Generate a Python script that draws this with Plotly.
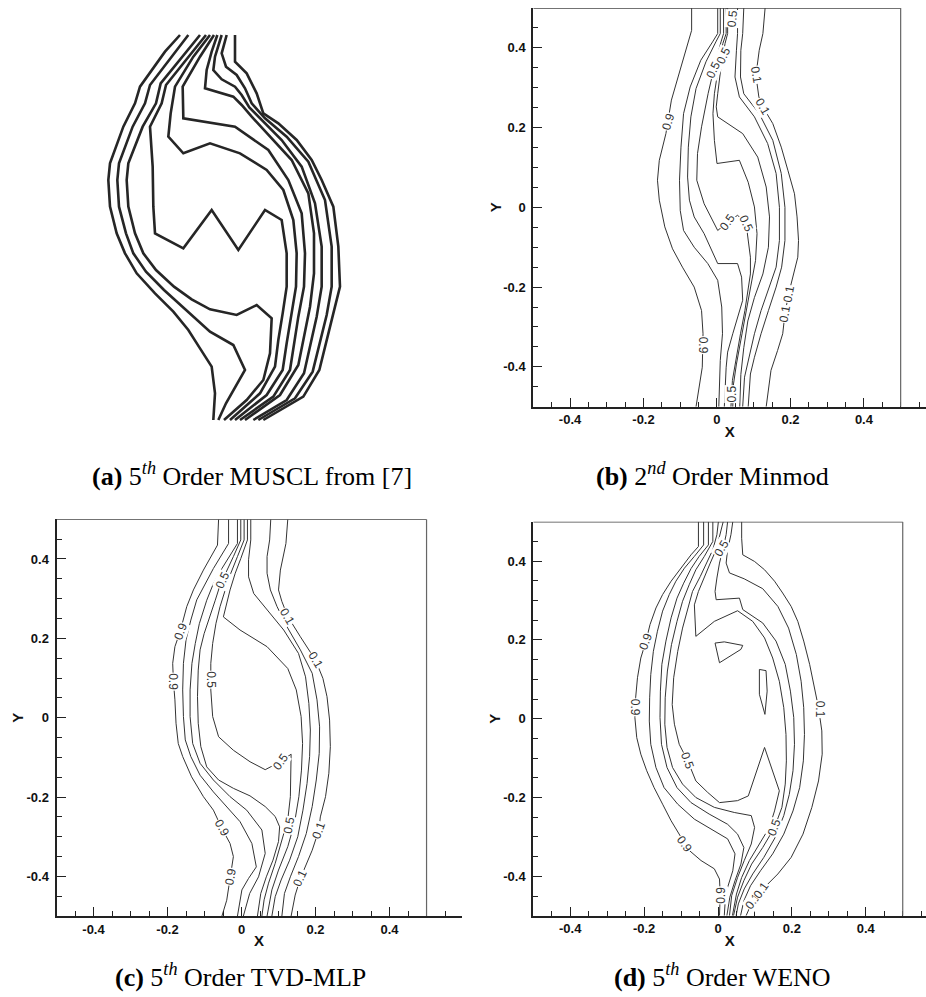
import plotly.graph_objects as go

# ---------------- Panel (a): 5th order MUSCL (digitised contour polylines) ----------------
a1_x = [-0.130,-0.175,-0.250,-0.265,-0.300,-0.340,-0.345,-0.340,-0.320,-0.295,-0.260,-0.205,-0.150,-0.105,-0.070,-0.035,-0.025,-0.030]
a1_y = [0.575,0.525,0.420,0.370,0.300,0.190,0.140,0.060,-0.020,-0.080,-0.140,-0.200,-0.255,-0.310,-0.365,-0.420,-0.500,-0.580]
a2_x = [-0.105,-0.148,-0.220,-0.235,-0.272,-0.313,-0.318,-0.313,-0.292,-0.270,-0.232,-0.178,-0.125,-0.080,-0.040,0.030,0.065,0.008,-0.015]
a2_y = [0.575,0.520,0.425,0.370,0.300,0.190,0.140,0.060,-0.020,-0.080,-0.135,-0.190,-0.238,-0.280,-0.315,-0.355,-0.430,-0.530,-0.580]
a3_x = [-0.070,-0.120,-0.188,-0.202,-0.242,-0.285,-0.290,-0.285,-0.265,-0.240,-0.202,-0.148,-0.095,-0.040,0.040,0.100,0.145,0.140,0.120,0.070,0.002]
a3_y = [0.575,0.515,0.430,0.370,0.300,0.190,0.140,0.060,-0.020,-0.080,-0.130,-0.180,-0.218,-0.248,-0.265,-0.235,-0.275,-0.380,-0.460,-0.520,-0.580]
az_x = [-0.052,-0.108,-0.172,-0.185,-0.220,-0.212,-0.210,-0.205,-0.120,-0.035,0.045,0.125,0.175,0.190,0.190,0.178,0.165,0.155,0.110,0.020]
az_y = [0.575,0.505,0.425,0.370,0.300,0.180,0.060,-0.020,-0.065,0.050,-0.070,0.050,0.020,-0.080,-0.180,-0.260,-0.340,-0.420,-0.500,-0.580]
a4_x = [-0.040,-0.090,-0.145,-0.158,-0.165,-0.120,-0.040,0.050,0.130,0.180,0.210,0.220,0.218,0.202,0.190,0.178,0.130,0.035]
a4_y = [0.575,0.510,0.420,0.340,0.270,0.220,0.250,0.220,0.170,0.110,0.020,-0.080,-0.180,-0.270,-0.350,-0.430,-0.505,-0.580]
ab1_x = [-0.028,-0.070,-0.122,-0.120,0.035,0.135,0.195,0.235,0.245,0.242,0.225,0.212,0.200,0.150,0.050]
ab1_y = [0.575,0.510,0.420,0.325,0.300,0.230,0.140,0.040,-0.080,-0.180,-0.270,-0.350,-0.430,-0.510,-0.580]
ab2_x = [-0.018,-0.035,-0.050,-0.055,0.030,0.055,0.085,0.135,0.205,0.255,0.272,0.272,0.260,0.242,0.225,0.170,0.065]
ab2_y = [0.575,0.525,0.470,0.415,0.390,0.365,0.330,0.275,0.200,0.100,-0.020,-0.140,-0.240,-0.330,-0.415,-0.505,-0.580]
ar3_x = [-0.005,-0.025,-0.030,-0.005,0.035,0.055,0.078,0.120,0.175,0.235,0.275,0.295,0.295,0.280,0.260,0.242,0.190,0.090]
ar3_y = [0.575,0.510,0.470,0.442,0.420,0.395,0.358,0.315,0.260,0.180,0.070,-0.060,-0.180,-0.270,-0.360,-0.440,-0.520,-0.580]
ar2_x = [0.010,-0.005,0.008,0.040,0.065,0.085,0.125,0.190,0.255,0.305,0.325,0.325,0.310,0.288,0.268,0.215,0.105]
ar2_y = [0.575,0.520,0.480,0.455,0.415,0.370,0.325,0.270,0.195,0.080,-0.060,-0.180,-0.265,-0.355,-0.435,-0.515,-0.580]
ar1_x = [0.035,0.035,0.070,0.100,0.120,0.165,0.220,0.265,0.295,0.330,0.345,0.350,0.330,0.308,0.288,0.240,0.120]
ar1_y = [0.575,0.495,0.460,0.400,0.340,0.310,0.260,0.200,0.140,0.060,-0.060,-0.180,-0.260,-0.350,-0.430,-0.510,-0.580]

# ---------------- Panel (b): 2nd order Minmod ----------------
b1_x = [-0.069,-0.069,-0.098,-0.124,-0.139,-0.157,-0.162,-0.157,-0.142,-0.121,-0.094,-0.062,-0.042,-0.038,-0.040,-0.057]
b1_y = [0.5,0.444,0.352,0.269,0.185,0.118,0.068,0.018,-0.049,-0.104,-0.150,-0.200,-0.259,-0.317,-0.401,-0.5]
b2_x = [0.002,0.002,-0.012,-0.044,-0.073,-0.091,-0.098,-0.102,-0.100,-0.091,-0.062,-0.025,0.002,0.013,0.015,0.009,0.005]
b2_y = [0.5,0.436,0.415,0.369,0.302,0.235,0.151,0.068,-0.008,-0.058,-0.100,-0.141,-0.183,-0.250,-0.317,-0.384,-0.5]
b3_x = [0.009,0.009,-0.003,-0.030,-0.057,-0.071,-0.078,-0.080,-0.075,-0.062,-0.035,0.002,0.056,0.067,0.070,0.056,0.043,0.029,0.025,0.020]
b3_y = [0.5,0.436,0.415,0.365,0.298,0.227,0.151,0.076,0.018,-0.024,-0.066,-0.141,-0.141,-0.175,-0.233,-0.275,-0.317,-0.363,-0.401,-0.5]
b4_x = [0.018,0.018,0.011,-0.005,-0.024,-0.042,-0.053,-0.055,-0.035,0.002,0.029,0.056,0.079,0.085,0.091,0.091,0.085,0.076,0.064,0.051,0.042,0.038]
b4_y = [0.5,0.436,0.415,0.361,0.286,0.202,0.135,0.068,0.009,-0.058,-0.037,-0.020,-0.039,-0.083,-0.125,-0.167,-0.209,-0.259,-0.317,-0.384,-0.434,-0.5]
b5_x = [0.025,0.025,0.016,0.004,-0.007,-0.011,-0.007,0.000,0.061,0.085,0.102,0.109,0.105,0.093,0.079,0.065,0.053,0.045,0.043]
b5_y = [0.5,0.436,0.411,0.352,0.285,0.235,0.168,0.110,0.118,0.063,0.001,-0.066,-0.133,-0.192,-0.259,-0.326,-0.393,-0.443,-0.5]
b6_x = [0.029,0.029,0.022,0.011,0.002,-0.002,0.002,0.070,0.111,0.134,0.143,0.140,0.125,0.102,0.084,0.073,0.065,0.062]
b6_y = [0.5,0.436,0.411,0.352,0.285,0.252,0.227,0.185,0.126,0.051,-0.024,-0.100,-0.167,-0.226,-0.285,-0.352,-0.419,-0.5]
b7_x = [0.056,0.056,0.053,0.049,0.061,0.102,0.138,0.161,0.170,0.170,0.161,0.143,0.120,0.102,0.085,0.075,0.070]
b7_y = [0.5,0.436,0.394,0.327,0.277,0.227,0.160,0.085,0.0,-0.083,-0.150,-0.200,-0.259,-0.317,-0.384,-0.426,-0.5]
b8_x = [0.073,0.070,0.065,0.064,0.073,0.115,0.152,0.175,0.185,0.185,0.176,0.161,0.140,0.120,0.102,0.091,0.085]
b8_y = [0.5,0.436,0.394,0.327,0.285,0.235,0.168,0.085,0.0,-0.083,-0.150,-0.200,-0.259,-0.317,-0.376,-0.418,-0.5]
b9_x = [0.131,0.125,0.115,0.106,0.114,0.125,0.152,0.175,0.193,0.211,0.218,0.222,0.220,0.206,0.195,0.185,0.179,0.165,0.147,0.134]
b9_y = [0.5,0.436,0.394,0.331,0.277,0.252,0.210,0.151,0.093,0.034,-0.024,-0.083,-0.125,-0.175,-0.217,-0.267,-0.317,-0.359,-0.409,-0.5]
b_lab_text = ["0.9", "0.9", "0.5", "0.5", "0.5", "0.5", "0.5", "0.5", "0.1", "0.1", "0.1", "0.1"]
b_lab_x = [-0.133, -0.039, 0.043, 0.017, -0.010, 0.029, 0.079, 0.040, 0.106, 0.125, 0.195, 0.184]
b_lab_y = [0.214, -0.346, 0.474, 0.380, 0.344, -0.037, -0.039, -0.468, 0.331, 0.252, -0.217, -0.267]
b_lab_ang = [-72, 90, -85, -65, -65, -55, 65, -90, 80, 60, -80, -80]

# ---------------- Panel (c): 5th order TVD-MLP ----------------
c1_x = [-0.062,-0.065,-0.103,-0.130,-0.148,-0.166,-0.180,-0.186,-0.184,-0.180,-0.177,-0.171,-0.159,-0.135,-0.103,-0.076,-0.053,-0.031,-0.022,-0.031,-0.040,-0.053]
c1_y = [0.5,0.435,0.372,0.322,0.280,0.217,0.179,0.137,0.091,0.045,-0.014,-0.065,-0.098,-0.149,-0.199,-0.233,-0.279,-0.317,-0.350,-0.405,-0.460,-0.5]
c2_x = [-0.035,-0.035,-0.076,-0.101,-0.121,-0.137,-0.150,-0.157,-0.159,-0.157,-0.152,-0.137,-0.112,-0.076,-0.040,-0.004,0.028,0.040,0.019,0.001,-0.011]
c2_y = [0.5,0.439,0.376,0.334,0.297,0.246,0.196,0.137,0.070,0.003,-0.056,-0.098,-0.145,-0.187,-0.224,-0.262,-0.317,-0.376,-0.405,-0.434,-0.5]
c3_x = [-0.011,-0.011,-0.053,-0.076,-0.094,-0.114,-0.125,-0.134,-0.139,-0.139,-0.132,-0.112,-0.076,-0.031,0.014,0.055,0.064,0.046,0.022,0.005]
c3_y = [0.5,0.439,0.376,0.338,0.296,0.237,0.187,0.137,0.070,0.003,-0.065,-0.115,-0.157,-0.199,-0.233,-0.283,-0.342,-0.401,-0.443,-0.5]
c4_x = [-0.002,-0.002,-0.022,-0.042,-0.058,-0.071,-0.087,-0.101,-0.112,-0.117,-0.119,-0.117,-0.110,-0.094,-0.062,-0.022,0.023,0.064,0.091,0.103,0.100,0.085,0.067,0.052,0.043]
c4_y = [0.5,0.448,0.406,0.368,0.334,0.296,0.254,0.212,0.171,0.120,0.053,-0.014,-0.073,-0.124,-0.157,-0.178,-0.197,-0.224,-0.249,-0.275,-0.312,-0.359,-0.401,-0.443,-0.5]
c5_x = [0.007,0.007,-0.011,-0.029,-0.044,-0.058,-0.069,-0.078,-0.083,-0.083,-0.078,-0.062,-0.022,0.023,0.064,0.105,0.134,0.134,0.132,0.125,0.109,0.091,0.073,0.061,0.055]
c5_y = [0.5,0.448,0.406,0.364,0.322,0.280,0.238,0.187,0.137,0.070,0.003,-0.048,-0.082,-0.111,-0.131,-0.111,-0.092,-0.140,-0.199,-0.257,-0.312,-0.367,-0.417,-0.459,-0.5]
c6_x = [0.016,0.016,-0.002,-0.017,-0.031,-0.040,-0.049,-0.004,0.069,0.125,0.148,0.161,0.165,0.162,0.155,0.143,0.125,0.100,0.082,0.069]
c6_y = [0.5,0.448,0.401,0.364,0.322,0.288,0.254,0.221,0.179,0.124,0.070,0.003,-0.065,-0.132,-0.199,-0.266,-0.325,-0.384,-0.434,-0.5]
c7_x = [0.025,0.025,0.019,0.019,0.033,0.069,0.114,0.154,0.173,0.182,0.186,0.184,0.177,0.166,0.152,0.130,0.107,0.091,0.082]
c7_y = [0.5,0.448,0.398,0.355,0.313,0.271,0.221,0.162,0.103,0.036,-0.031,-0.098,-0.166,-0.233,-0.300,-0.359,-0.409,-0.451,-0.5]
c8_x = [0.079,0.076,0.069,0.069,0.078,0.096,0.123,0.159,0.191,0.204,0.211,0.210,0.202,0.191,0.175,0.154,0.132,0.116,0.109]
c8_y = [0.5,0.448,0.406,0.364,0.322,0.280,0.229,0.171,0.112,0.045,-0.023,-0.090,-0.157,-0.224,-0.292,-0.350,-0.401,-0.443,-0.5]
c9_x = [0.125,0.120,0.105,0.100,0.109,0.125,0.159,0.200,0.220,0.231,0.238,0.240,0.236,0.227,0.213,0.209,0.191,0.173,0.159,0.145,0.134]
c9_y = [0.5,0.439,0.372,0.322,0.293,0.255,0.204,0.145,0.099,0.053,-0.006,-0.073,-0.140,-0.199,-0.250,-0.283,-0.334,-0.372,-0.405,-0.447,-0.5]
c_lab_text = ["0.9", "0.9", "0.9", "0.9", "0.5", "0.5", "0.5", "0.5", "0.1", "0.1", "0.1", "0.1"]
c_lab_x = [-0.166, -0.184, -0.053, -0.030, -0.051, -0.083, 0.105, 0.128, 0.125, 0.200, 0.209, 0.159]
c_lab_y = [0.217, 0.091, -0.279, -0.401, 0.347, 0.095, -0.111, -0.270, 0.255, 0.145, -0.283, -0.405]
c_lab_ang = [-70, 90, 60, -80, -65, 90, -55, -80, 60, 60, -70, -65]

# ---------------- Panel (d): 5th order WENO ----------------
d1_x = [-0.053,-0.053,-0.073,-0.100,-0.127,-0.150,-0.168,-0.184,-0.195,-0.209,-0.218,-0.223,-0.225,-0.220,-0.209,-0.193,-0.173,-0.150,-0.127,-0.100,-0.082,-0.046,-0.010,0.004,0.006,0.004]
d1_y = [0.5,0.437,0.416,0.382,0.349,0.315,0.281,0.239,0.197,0.154,0.104,0.053,0.003,-0.048,-0.090,-0.132,-0.175,-0.217,-0.259,-0.301,-0.331,-0.360,-0.381,-0.407,-0.445,-0.5]
d2_x = [-0.039,-0.039,-0.064,-0.091,-0.114,-0.132,-0.150,-0.164,-0.175,-0.182,-0.185,-0.186,-0.182,-0.168,-0.146,-0.109,-0.064,-0.010,0.026,0.046,0.040,0.026,0.019,0.017]
d2_y = [0.5,0.441,0.412,0.382,0.349,0.315,0.273,0.222,0.171,0.112,0.053,-0.006,-0.065,-0.124,-0.175,-0.217,-0.255,-0.284,-0.305,-0.343,-0.386,-0.428,-0.470,-0.5]
d3_x = [-0.026,-0.026,-0.051,-0.073,-0.093,-0.111,-0.127,-0.141,-0.152,-0.156,-0.157,-0.153,-0.138,-0.111,-0.073,-0.024,0.026,0.053,0.070,0.062,0.046,0.032,0.024]
d3_y = [0.5,0.441,0.412,0.381,0.344,0.306,0.256,0.197,0.138,0.070,0.003,-0.065,-0.124,-0.175,-0.213,-0.242,-0.268,-0.293,-0.327,-0.369,-0.411,-0.453,-0.5]
d4_x = [-0.014,-0.014,-0.037,-0.060,-0.078,-0.096,-0.111,-0.126,-0.137,-0.143,-0.144,-0.138,-0.123,-0.096,-0.060,-0.010,0.044,0.090,0.099,0.090,0.071,0.053,0.037,0.031]
d4_y = [0.5,0.450,0.412,0.378,0.340,0.298,0.247,0.188,0.121,0.053,-0.014,-0.073,-0.124,-0.166,-0.200,-0.225,-0.238,-0.246,-0.276,-0.318,-0.360,-0.403,-0.449,-0.5]
d5_x = [0.001,-0.003,-0.014,-0.030,-0.048,-0.069,-0.082,-0.096,-0.109,-0.120,-0.124,-0.118,-0.105,-0.082,-0.060,-0.028,0.004,0.053,0.082,0.126,0.166,0.153,0.139,0.112,0.085,0.064,0.050,0.039]
d5_y = [0.5,0.467,0.429,0.395,0.361,0.323,0.281,0.230,0.171,0.104,0.036,-0.014,-0.065,-0.107,-0.158,-0.187,-0.213,-0.208,-0.196,-0.073,-0.183,-0.234,-0.276,-0.318,-0.360,-0.403,-0.445,-0.5]
d6_x = [0.014,0.006,-0.005,-0.021,-0.039,-0.053,-0.064,-0.060,-0.010,0.053,0.094,0.126,0.148,0.166,0.178,0.184,0.185,0.182,0.173,0.153,0.121,0.091,0.070,0.053,0.042]
d6_y = [0.5,0.467,0.429,0.395,0.357,0.323,0.289,0.209,0.247,0.274,0.247,0.205,0.154,0.095,0.028,-0.040,-0.107,-0.166,-0.225,-0.276,-0.327,-0.369,-0.411,-0.453,-0.5]
d7_x = [0.026,0.022,0.013,0.004,-0.003,-0.008,-0.005,0.058,0.067,0.121,0.157,0.182,0.196,0.205,0.207,0.203,0.193,0.178,0.155,0.124,0.094,0.071,0.055,0.049]
d7_y = [0.5,0.467,0.429,0.395,0.357,0.323,0.302,0.306,0.277,0.243,0.197,0.138,0.070,0.003,-0.065,-0.132,-0.192,-0.246,-0.301,-0.352,-0.394,-0.432,-0.470,-0.5]
d8_x = [0.040,0.035,0.026,0.022,0.031,0.071,0.121,0.162,0.191,0.212,0.225,0.232,0.234,0.231,0.221,0.203,0.178,0.148,0.115,0.088,0.070,0.061]
d8_y = [0.5,0.467,0.429,0.395,0.370,0.355,0.330,0.285,0.230,0.163,0.095,0.028,-0.040,-0.107,-0.175,-0.234,-0.293,-0.343,-0.386,-0.424,-0.462,-0.5]
d9_x = [0.064,0.064,0.067,0.099,0.126,0.153,0.175,0.198,0.216,0.232,0.248,0.261,0.272,0.281,0.282,0.272,0.254,0.230,0.198,0.162,0.126,0.094,0.076]
d9_y = [0.5,0.458,0.416,0.399,0.378,0.349,0.319,0.285,0.247,0.197,0.138,0.078,0.028,-0.031,-0.090,-0.158,-0.225,-0.293,-0.352,-0.394,-0.428,-0.462,-0.5]
dt1_x = [-0.008,0.017,0.067,0.062,0.004,-0.008]
dt1_y = [0.192,0.195,0.186,0.176,0.142,0.192]
dt2_x = [0.112,0.130,0.133,0.127,0.112,0.112]
dt2_y = [0.125,0.122,0.070,0.011,0.062,0.125]
d_lab_text = ["0.5", "0.9", "0.9", "0.5", "0.9", "0.5", "0.9", "0.1", "0.1", "0.1"]
d_lab_x = [0.010, -0.195, -0.225, -0.082, -0.091, 0.153, 0.006, 0.275, 0.094, 0.118]
d_lab_y = [0.433, 0.197, 0.028, -0.107, -0.318, -0.276, -0.449, 0.024, -0.462, -0.436]
d_lab_ang = [-60, -70, 90, 70, 55, -70, -90, 90, -55, -55]

tick_vals = [-0.4, -0.2, 0, 0.2, 0.4]
tick_text = ["-0.4", "-0.2", "0", "0.2", "0.4"]

captions = [
    "<b>(a)</b> 5<sup><i>th</i></sup> Order MUSCL from [7]",
    "<b>(b)</b> 2<sup><i>nd</i></sup> Order Minmod",
    "<b>(c)</b> 5<sup><i>th</i></sup> Order TVD-MLP",
    "<b>(d)</b> 5<sup><i>th</i></sup> Order WENO",
]

W, H = 926, 997
fig = go.Figure()

panel_a = [(a1_x, a1_y), (a2_x, a2_y), (a3_x, a3_y), (az_x, az_y), (a4_x, a4_y),
           (ab1_x, ab1_y), (ab2_x, ab2_y), (ar3_x, ar3_y), (ar2_x, ar2_y), (ar1_x, ar1_y)]
panel_b = [(b1_x, b1_y), (b2_x, b2_y), (b3_x, b3_y), (b4_x, b4_y), (b5_x, b5_y),
           (b6_x, b6_y), (b7_x, b7_y), (b8_x, b8_y), (b9_x, b9_y)]
panel_c = [(c1_x, c1_y), (c2_x, c2_y), (c3_x, c3_y), (c4_x, c4_y), (c5_x, c5_y),
           (c6_x, c6_y), (c7_x, c7_y), (c8_x, c8_y), (c9_x, c9_y)]
panel_d = [(d1_x, d1_y), (d2_x, d2_y), (d3_x, d3_y), (d4_x, d4_y), (d5_x, d5_y),
           (d6_x, d6_y), (d7_x, d7_y), (d8_x, d8_y), (d9_x, d9_y), (dt1_x, dt1_y), (dt2_x, dt2_y)]


def add_lines(lines, xa, ya, width, color):
    for xs, ys in lines:
        fig.add_trace(go.Scatter(x=xs, y=ys, mode="lines", xaxis=xa, yaxis=ya,
                                 line=dict(color=color, width=width),
                                 hoverinfo="skip", showlegend=False))


add_lines(panel_a, "x", "y", 2.6, "#262626")
add_lines(panel_b, "x2", "y2", 1.0, "#333333")
add_lines(panel_c, "x3", "y3", 1.0, "#333333")
add_lines(panel_d, "x4", "y4", 1.0, "#333333")

tick_font = dict(family="Liberation Sans", size=13, color="#111", weight="bold")
title_font = dict(family="Liberation Sans", size=15, color="#111", weight="bold")


def px_x(p):
    return p / W


def px_y(p):
    return 1 - p / H


def x_axis(dom, rng, anchor):
    return dict(domain=dom, range=rng, anchor=anchor, showline=True, linewidth=2,
                linecolor="#222", mirror=False, ticks="inside", ticklen=9, tickwidth=1.3,
                tickcolor="#222", tickmode="array", tickvals=tick_vals, ticktext=tick_text,
                minor=dict(ticks="inside", ticklen=5, tickwidth=1, tickcolor="#222",
                           tickmode="linear", tick0=0, dtick=0.05, showgrid=False),
                showgrid=False, zeroline=False, tickfont=tick_font,
                title=dict(text="X", font=title_font, standoff=0), fixedrange=True)


def y_axis(dom, anchor):
    return dict(domain=dom, range=[-0.5, 0.5], anchor=anchor, showline=True, linewidth=2,
                linecolor="#222", ticks="inside", ticklen=9, tickwidth=1.3,
                tickcolor="#222", tickmode="array", tickvals=tick_vals, ticktext=tick_text,
                minor=dict(ticks="inside", ticklen=5, tickwidth=1, tickcolor="#222",
                           tickmode="linear", tick0=0, dtick=0.05, showgrid=False),
                showgrid=False, zeroline=False, tickfont=tick_font, ticklabelstandoff=3,
                fixedrange=True)


layout = dict(
    width=W, height=H, margin=dict(l=0, r=0, t=0, b=0),
    paper_bgcolor="white", plot_bgcolor="white", showlegend=False,
    xaxis=dict(domain=[px_x(80), px_x(400)], range=[-0.43, 0.53], visible=False, fixedrange=True),
    yaxis=dict(domain=[px_y(440), px_y(20)], range=[-0.64, 0.62], visible=False, fixedrange=True),
    xaxis2=x_axis([px_x(533.3), 1.0], [-0.5, 0.569], "y2"),
    yaxis2=y_axis([px_y(406.7), px_y(8)], "x2"),
    xaxis3=x_axis([px_x(56.5), px_x(461.7)], [-0.5, 0.595], "y3"),
    yaxis3=y_axis([px_y(916.1), px_y(519.3)], "x3"),
    xaxis4=x_axis([px_x(533.3), 1.0], [-0.5, 0.563], "y4"),
    yaxis4=y_axis([px_y(915.7), px_y(521.7)], "x4"),
)
fig.update_layout(**layout)

# frame: top and right borders of the unit box
for xr, yr in [("x2", "y2"), ("x3", "y3"), ("x4", "y4")]:
    fig.add_shape(type="line", xref=xr, yref=yr, x0=-0.5, x1=0.5, y0=0.5, y1=0.5,
                  line=dict(color="#444", width=1.5))
    fig.add_shape(type="line", xref=xr, yref=yr, x0=0.5, x1=0.5, y0=-0.5, y1=0.5,
                  line=dict(color="#666", width=1.2))

# Y axis titles
for xr, yr, xp in [("x2", "y2", 495), ("x3", "y3", 18), ("x4", "y4", 495)]:
    fig.add_annotation(x=px_x(xp), y=0, xref="paper", yref=yr, text="Y", showarrow=False,
                       textangle=-90, font=title_font, xanchor="center", yanchor="middle")

lab_font = dict(family="Liberation Sans", size=12, color="#333")
for texts, xs, ys, angs, xr, yr in [
    (b_lab_text, b_lab_x, b_lab_y, b_lab_ang, "x2", "y2"),
    (c_lab_text, c_lab_x, c_lab_y, c_lab_ang, "x3", "y3"),
    (d_lab_text, d_lab_x, d_lab_y, d_lab_ang, "x4", "y4"),
]:
    for t, x, y, a in zip(texts, xs, ys, angs):
        fig.add_annotation(x=x, y=y, xref=xr, yref=yr, text=t, showarrow=False,
                           textangle=a, font=lab_font, bgcolor="white", borderpad=0)

cap_font = dict(family="Liberation Serif", size=26, color="#000")
for text, cx, cy in zip(captions, [252, 712, 241, 722], [474, 474, 975, 975]):
    fig.add_annotation(x=px_x(cx), y=px_y(cy), xref="paper", yref="paper", text=text,
                       showarrow=False, font=cap_font, xanchor="center", yanchor="middle")

fig.write_html("out.html", config={"displayModeBar": False},
               post_script="document.body.style.margin='0';")
